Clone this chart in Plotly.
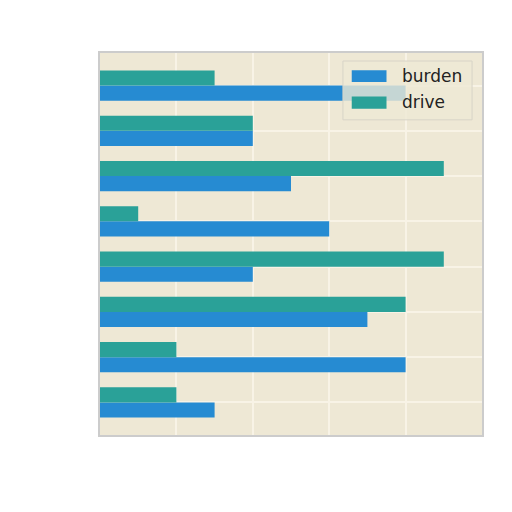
import plotly.graph_objects as go

# categories bottom to top (matplotlib barh order)
categories = [0, 1, 2, 3, 4, 5, 6, 7]
burden = [3, 8, 7, 4, 6, 5, 4, 8]
drive = [2, 2, 8, 9, 1, 9, 4, 3]
series_names = ["burden", "drive"]
colors = ["#268bd2", "#2aa198"]

fig = go.Figure()
for name, vals, col in zip(series_names, [burden, drive], colors):
    fig.add_trace(go.Bar(y=categories, x=vals, orientation="h", name=name,
                         marker=dict(color=col, line=dict(width=0)),
                         showlegend=False))

# legend drawn by hand so the patches are wide like matplotlib's
shapes = [dict(type="rect", xref="paper", yref="paper",
               x0=0.636, x1=0.974, y0=0.825, y1=0.979,
               fillcolor="rgba(238,232,213,0.8)",
               line=dict(color="#d8d4c8", width=1), layer="above")]
annotations = []
rows = [(0.924, 0.955, 0.941), (0.854, 0.886, 0.871)]
for (y0, y1, yt), name, col in zip(rows, series_names, colors):
    shapes.append(dict(type="rect", xref="paper", yref="paper",
                       x0=0.659, x1=0.75, y0=y0, y1=y1,
                       fillcolor=col, line=dict(width=0), layer="above"))
    annotations.append(dict(text=name, xref="paper", yref="paper",
                            x=0.785, y=yt, xanchor="left", yanchor="middle",
                            showarrow=False,
                            font=dict(family="DejaVu Sans", size=17, color="#222222")))

fig.update_layout(
    width=512, height=512,
    margin=dict(l=92, r=38, t=45, b=85),
    paper_bgcolor="white",
    plot_bgcolor="#eee8d5",
    barmode="group", bargap=0.33, bargroupgap=0,
    font=dict(family="DejaVu Sans", size=16, color="#222222"),
    shapes=shapes,
    annotations=annotations,
    xaxis=dict(range=[0, 10], dtick=2, showticklabels=False, ticks="",
               gridcolor="#f8f3e6", gridwidth=1.5, zeroline=False,
               showline=True, linecolor="#cccccc", linewidth=2, mirror=True),
    yaxis=dict(range=[-0.72, 7.72], dtick=1, showticklabels=False, ticks="",
               gridcolor="#f8f3e6", gridwidth=1.5, zeroline=False,
               showline=True, linecolor="#cccccc", linewidth=2, mirror=True),
)

fig.write_html("out.html")
